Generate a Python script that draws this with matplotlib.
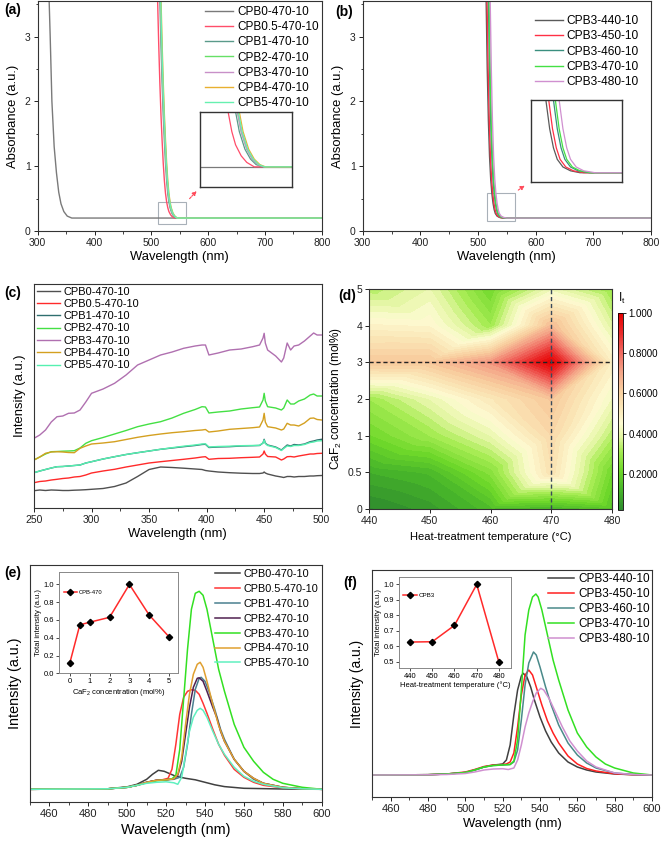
import numpy as np
import matplotlib
matplotlib.use('Agg')
import matplotlib.pyplot as plt
from matplotlib.colors import LinearSegmentedColormap, Normalize
from matplotlib.patches import Rectangle, FancyArrowPatch
import matplotlib.tri as mtri
import matplotlib.cm as cm

plt.rcParams['font.family'] = ['Liberation Sans', 'DejaVu Sans']
plt.rcParams['mathtext.default'] = 'regular'

# ---------------- DATA ----------------
# (a) absorbance, CaF2 series
a_labels = ['CPB0-470-10', 'CPB0.5-470-10', 'CPB1-470-10', 'CPB2-470-10', 'CPB3-470-10', 'CPB4-470-10', 'CPB5-470-10']
a_colors = ['#7a7a7a', '#ff4d6a', '#5a9a8a', '#66e066', '#c890c8', '#e8b030', '#66f0b0']
a_wl = [
    [320, 322, 325, 329, 333, 337, 341, 346, 352, 360, 800],
    [511, 513, 515, 517, 519, 521, 523, 525, 527, 529, 531, 534, 537, 541, 800],
    [515, 517, 519, 521, 523, 525, 527, 529, 531, 533, 536, 539, 542, 546, 800],
    [516, 518, 520, 522, 524, 526, 528, 530, 532, 534, 537, 540, 543, 546, 800],
    [516, 518, 520, 522, 524, 526, 528, 530, 532, 534, 537, 540, 543, 546, 800],
    [517, 519, 521, 523, 525, 527, 529, 531, 533, 535, 538, 541, 544, 547, 800],
    [516.5, 518.5, 520.5, 522.5, 524.5, 526.5, 528.5, 530.5, 532.5, 534.5, 537.5, 540.5, 543.5, 546.5, 800],
]
a_abs = [
    [3.6, 3.0, 2.0, 1.3, 0.9, 0.6, 0.42, 0.3, 0.23, 0.2, 0.2],
    [3.6, 2.9, 2.3, 1.8, 1.4, 1.05, 0.78, 0.58, 0.45, 0.36, 0.3, 0.25, 0.22, 0.2, 0.2],
    [3.6, 2.9, 2.3, 1.8, 1.4, 1.05, 0.78, 0.58, 0.45, 0.36, 0.28, 0.235, 0.21, 0.2, 0.2],
    [3.6, 2.9, 2.3, 1.8, 1.4, 1.05, 0.78, 0.58, 0.45, 0.36, 0.28, 0.235, 0.21, 0.2, 0.2],
    [3.6, 2.9, 2.3, 1.8, 1.4, 1.05, 0.78, 0.58, 0.45, 0.36, 0.28, 0.235, 0.21, 0.2, 0.2],
    [3.6, 2.9, 2.3, 1.8, 1.4, 1.05, 0.78, 0.58, 0.45, 0.36, 0.28, 0.235, 0.21, 0.2, 0.2],
    [3.6, 2.9, 2.3, 1.8, 1.4, 1.05, 0.78, 0.58, 0.45, 0.36, 0.28, 0.235, 0.21, 0.2, 0.2],
]

# (b) absorbance, temperature series
b_labels = ['CPB3-440-10', 'CPB3-450-10', 'CPB3-460-10', 'CPB3-470-10', 'CPB3-480-10']
b_colors = ['#5a5a5a', '#ff3045', '#3a8f7f', '#44e044', '#d090d0']
b_wl = [
    [514, 516, 518, 520, 522, 524, 526, 528, 530, 533, 537, 542, 800],
    [515.5, 517.5, 519.5, 521.5, 523.5, 525.5, 527.5, 529.5, 531.5, 534.5, 538.5, 544, 800],
    [518, 520, 522, 524, 526, 528, 530, 532, 534, 537, 541, 547, 800],
    [519, 521, 523, 525, 527, 529, 531, 533, 535, 538, 542, 548, 800],
    [521, 523, 525, 527, 529, 531, 533, 535, 537, 540, 544, 550, 800],
]
b_abs = [
    [3.6, 2.5, 1.7, 1.15, 0.8, 0.58, 0.43, 0.33, 0.27, 0.23, 0.21, 0.2, 0.2],
    [3.6, 2.5, 1.7, 1.15, 0.8, 0.58, 0.43, 0.33, 0.27, 0.23, 0.21, 0.2, 0.2],
    [3.6, 2.5, 1.7, 1.15, 0.8, 0.58, 0.43, 0.33, 0.27, 0.23, 0.21, 0.2, 0.2],
    [3.6, 2.5, 1.7, 1.15, 0.8, 0.58, 0.43, 0.33, 0.27, 0.23, 0.21, 0.2, 0.2],
    [3.6, 2.5, 1.7, 1.15, 0.8, 0.58, 0.43, 0.33, 0.27, 0.23, 0.21, 0.2, 0.2],
]

# (c) excitation-type spectra 250-500 nm
c_labels = a_labels
c_colors = ['#505050', '#ff2a2a', '#2f6f6f', '#44e044', '#b070b0', '#d4a020', '#55f0b0']
c_wl = [250, 255, 260, 265, 270, 275, 280, 285, 290, 295, 300, 310, 320, 330, 340, 350, 360, 370, 380, 390,
        396, 399, 402, 410, 420, 430, 440, 446, 449, 450, 451, 453, 460, 465, 467, 470, 473, 476, 480, 485,
        490, 493, 496, 500]
c_cpb0 = [17.3, 18, 17.5, 18, 17.8, 17.5, 17.5, 17.8, 18, 18.3, 18.7, 19.5, 21.5, 25, 31.5, 38.5, 41, 40.5, 39.8, 39,
          38.5, 37.5, 37, 36, 35.3, 34.8, 34.5, 34.5, 35, 36, 35, 34, 32, 31, 30.5, 31.5, 31.5, 31, 31.5, 31.5,
          32, 32, 32.3, 32.5]
c_cpb05 = [25.3, 26.5, 27, 28, 28.7, 29.5, 30, 31, 31.5, 33, 35, 37, 38.7, 41, 43, 45, 46.3, 47.5, 48.7, 50,
           51, 51.3, 48.7, 49.5, 49.7, 50.3, 50.7, 51, 54, 57, 54, 51.5, 51, 48, 49, 51.3, 51.5, 51, 52, 53,
           54, 54, 54.5, 54.7]
c_cpb1 = [35.3, 37, 38.5, 40, 41.3, 41.5, 42, 42.5, 43, 45, 46.3, 49, 51.3, 53.5, 55.3, 57, 58.7, 60, 61.3, 62.5,
          63.5, 63.7, 60.5, 61, 61.3, 62, 62.3, 62.5, 65, 68.7, 65, 63, 61, 58, 60, 63, 62, 63.5, 63, 64,
          66.3, 67, 68, 68.7]
c_cpb2 = [48, 51, 54, 56.3, 56.5, 56.8, 57, 57.3, 60, 64.7, 67.3, 70.5, 74, 77.5, 81.3, 84, 86.3, 90, 94.7, 98.5,
          101.3, 101, 95, 96, 97, 99, 100.3, 101, 108, 114.7, 107, 101.3, 100, 98, 100, 108, 104, 104, 107, 109,
          113, 114, 112, 112]
c_cpb3 = [69.7, 73, 78, 86, 91.3, 92, 94.7, 95, 98, 106, 114.7, 119, 124.7, 133, 143, 148, 153, 156, 159.7, 162,
          163, 163, 153, 155, 158, 159, 161.3, 163, 170, 174.7, 165, 158, 152, 146, 150, 165, 158, 162, 163, 167,
          172, 175, 173, 173]
c_cpb4 = [48, 51, 54.7, 56, 56.3, 56, 55.5, 55.3, 59.7, 62, 64, 65, 66.3, 68.5, 70.7, 72.5, 74, 75.3, 76.3, 77.5,
          78, 78.5, 76, 77, 78.7, 79.5, 80.3, 81, 88, 94.7, 86, 81.3, 80, 78, 79, 84.7, 83, 83, 82, 85,
          89.7, 90, 88.5, 88]
c_cpb5 = [35.3, 37, 38.5, 40, 41.3, 41.5, 42, 42.5, 43, 45, 46.3, 49, 51.3, 53.5, 55.3, 57, 58.7, 60.3, 61.8, 63,
          64, 64.2, 61, 61.5, 61.8, 62.3, 62.5, 62.7, 65, 68, 64.5, 62.5, 60.5, 57.5, 59.5, 62, 61.5, 62.5, 62.5, 63.5,
          65.5, 66, 67, 67.3]
c_series = [c_cpb0, c_cpb05, c_cpb1, c_cpb2, c_cpb3, c_cpb4, c_cpb5]

# (d) contour map of total intensity
d_temps = [440, 450, 460, 470, 480]
d_conc_labels = ['0', '0.5', '1', '2', '3', '4', '5']
d_int = [
    [0.02, 0.06, 0.14, 0.12, 0.16],   # 0 mol%
    [0.10, 0.13, 0.26, 0.545, 0.22],  # 0.5
    [0.22, 0.30, 0.40, 0.575, 0.33],  # 1
    [0.30, 0.40, 0.52, 0.63, 0.42],   # 2
    [0.627, 0.629, 0.735, 1.0, 0.495],# 3
    [0.48, 0.47, 0.30, 0.655, 0.38],  # 4
    [0.33, 0.40, 0.22, 0.41, 0.29],   # 5
]

# (e) PL spectra, CaF2 series
e_labels = a_labels
e_colors = ['#404040', '#ff3535', '#4a8090', '#502050', '#33e022', '#e0a030', '#60f0c0']
e_wl = [
    [450, 490, 500, 505, 510, 513, 516, 519, 522, 525, 530, 535, 540, 545, 550, 560, 580, 600],
    [450, 490, 500, 505, 510, 515, 518, 521, 523, 525, 527, 529, 531, 533, 535, 537, 539, 541, 544, 547, 550, 555, 560, 565, 570, 580, 590, 600],
    [450, 490, 500, 505, 510, 515, 520, 524, 527, 529, 531, 533, 535, 537, 538, 540, 542, 545, 548, 550, 555, 560, 565, 570, 580, 590, 600],
    [450, 490, 500, 505, 510, 515, 520, 524, 526, 528, 530, 532, 534, 536, 537, 539, 541, 544, 546, 548, 550, 555, 560, 565, 570, 580, 590, 600],
    [450, 490, 500, 505, 510, 515, 520, 523, 525, 527, 529, 531, 533, 535, 537, 539, 541, 544, 547, 550, 555, 560, 565, 570, 575, 580, 590, 600],
    [450, 490, 500, 505, 510, 515, 520, 524, 526, 528, 530, 532, 534, 536, 537.5, 539, 541, 544, 547, 550, 555, 560, 565, 570, 580, 590, 600],
    [450, 490, 500, 505, 510, 515, 520, 524, 526, 528, 530, 532, 534, 536, 537.5, 539, 541, 544, 547, 550, 555, 560, 565, 570, 580, 590, 600],
]
e_int = [
    [0, 0.5, 2.5, 5, 10, 15, 19, 18, 15.5, 13, 11, 9.5, 7, 4.5, 2.7, 1, 0.3, 0],
    [0, 0.5, 2, 4, 7, 9, 9.5, 11, 20, 45, 75, 92, 98, 99.5, 99, 95, 86, 76, 60, 45, 34, 20, 12, 7, 4, 1.5, 0.5, 0],
    [0, 0.5, 2, 4, 7, 9, 9.5, 10, 12, 22, 45, 75, 100, 111, 112, 108, 98, 80, 60, 50, 30, 18, 10, 6, 2, 0.5, 0],
    [0, 0.5, 2, 4, 7, 9, 9.5, 10.5, 14, 28, 55, 82, 102, 111, 111.5, 108, 98, 82, 72, 58, 48, 30, 18, 11, 6, 2, 0.5, 0],
    [0, 0.5, 2, 4, 6.5, 8.5, 9.5, 10.5, 14, 40, 90, 140, 180, 196, 198, 194, 180, 150, 120, 98, 65, 42, 28, 17, 10, 6, 2, 0],
    [0, 0.5, 2, 4, 7, 9, 9.5, 10.5, 15, 32, 65, 95, 115, 125, 127, 122, 108, 85, 64, 48, 30, 18, 11, 6, 2, 0.5, 0],
    [0, 0.5, 2, 4, 6, 7, 7.5, 6.5, 5, 12, 35, 58, 72, 79, 81, 79, 72, 58, 45, 35, 22, 13, 8, 5, 1.5, 0.5, 0],
]

# (f) PL spectra, temperature series
f_labels = b_labels
f_colors = ['#404040', '#ff2020', '#4a8a8a', '#33e022', '#d090d0']
f_wl = [
    [450, 480, 490, 500, 505, 510, 515, 518, 520, 522, 524, 526, 528, 530, 531, 533, 535, 537, 540, 543, 546, 550, 555, 560, 565, 570, 580, 590, 600],
    [450, 480, 490, 500, 505, 510, 515, 520, 522, 524, 526, 528, 530, 532, 534, 536, 538, 541, 544, 547, 550, 555, 560, 565, 570, 580, 590, 600],
    [450, 480, 490, 500, 505, 510, 515, 520, 524, 526, 528, 530, 532, 534, 536.5, 538, 540, 543, 546, 550, 555, 560, 565, 570, 580, 590, 600],
    [450, 480, 490, 500, 505, 510, 515, 520, 524, 526, 528, 530, 532, 534, 536, 537.8, 539, 541, 544, 547, 550, 555, 560, 565, 570, 575, 580, 590, 600],
    [450, 480, 490, 500, 505, 510, 515, 520, 523, 526, 528, 530, 532, 534, 536, 538, 540.4, 542, 545, 548, 552, 556, 560, 565, 570, 580, 590, 600],
]
f_int = [
    [0, 0.3, 1, 2.5, 5, 8, 10, 10.5, 11, 15, 30, 60, 85, 99, 101.7, 98, 88, 75, 58, 44, 33, 22, 13, 8, 5, 3, 1, 0.3, 0],
    [0, 0.3, 1, 3, 5.5, 8.5, 10, 10.5, 11, 13, 22, 48, 80, 100, 105, 100, 88, 70, 54, 42, 32, 19, 11, 6.5, 4, 1.2, 0.3, 0],
    [0, 0.3, 1, 2.5, 5, 8, 9.5, 10, 10.5, 13, 25, 55, 90, 112, 123, 120, 108, 88, 70, 50, 32, 20, 12, 7, 2, 0.5, 0],
    [0, 0.3, 1, 2.5, 5, 8, 9.5, 10, 10.5, 14, 35, 85, 140, 165, 178, 181, 178, 165, 140, 115, 95, 65, 42, 28, 18, 11, 7, 2, 0],
    [0, 0.2, 0.5, 1.5, 3, 5, 6, 6.3, 5.5, 7, 15, 30, 48, 62, 73, 82, 86.7, 85, 76, 64, 48, 34, 24, 14, 8, 2, 0.5, 0],
]

# insets
e_in_conc = [0, 0.5, 1, 2, 3, 4, 5]
e_in_int = [0.12, 0.545, 0.575, 0.63, 1.0, 0.655, 0.41]
f_in_temp = [440, 450, 460, 470, 480]
f_in_int = [0.627, 0.629, 0.735, 1.0, 0.495]

# ---------------- FIGURE ----------------
W, H = 662, 842
fig = plt.figure(figsize=(W / 100, H / 100), dpi=100)


def ax_px(l, t, r, b):
    return fig.add_axes([l / W, 1 - b / H, (r - l) / W, (b - t) / H])


def style(ax, fs=7.5):
    for s in ax.spines.values():
        s.set_color('#333333')
        s.set_linewidth(0.8)
    ax.tick_params(which='major', direction='out', length=3, width=0.7, labelsize=fs, colors='#222222', pad=2)
    ax.tick_params(which='minor', direction='out', length=1.8, width=0.6, colors='#222222')


def legend(ax, fs, anchor, spacing, hl):
    return ax.legend(loc='upper left', bbox_to_anchor=anchor, fontsize=fs, frameon=False, handlelength=hl,
                     handletextpad=0.35, labelspacing=spacing, borderaxespad=0, borderpad=0)


def panel_label(x, y, s):
    fig.text(x / W, 1 - y / H, s, fontsize=10, fontweight='bold', ha='left', va='center')


# ---- (a)
axa = ax_px(37.7, 1, 321.7, 231)
for lab, wl, ab, col in zip(a_labels, a_wl, a_abs, a_colors):
    axa.plot(wl, ab, color=col, lw=1.0, label=lab)
axa.set_xlim(300, 800)
axa.set_ylim(0, 3.55)
axa.set_xticks([300, 400, 500, 600, 700, 800])
axa.set_xticks([350, 450, 550, 650, 750], minor=True)
axa.set_yticks([0, 1, 2, 3])
axa.set_yticks([0.5, 1.5, 2.5, 3.5], minor=True)
style(axa)
axa.set_xlabel('Wavelength (nm)', fontsize=9.4, labelpad=2)
axa.set_ylabel('Absorbance (a.u.)', fontsize=9.4, labelpad=4)
legend(axa, 8.5, (0.589, 0.978), 0.27, 2.4)
axa.add_patch(Rectangle((512, 0.11), 49, 0.34, fill=False, ec='#a8b0b8', lw=0.8))
ina = ax_px(200, 111.7, 291.7, 186.7)
for wl, ab, col in zip(a_wl, a_abs, a_colors):
    ina.plot(wl, ab, color=col, lw=0.9)
ina.set_xlim(512, 561)
ina.set_ylim(0.11, 0.45)
ina.set_xticks([]); ina.set_yticks([])
for s in ina.spines.values():
    s.set_color('#333333'); s.set_linewidth(1.0)
fig.add_artist(FancyArrowPatch(posA=(187.7 / W, 1 - 200.7 / H), posB=(198.5 / W, 1 - 189 / H),
                               transform=fig.transFigure, arrowstyle='-|>', mutation_scale=6,
                               color='#ff4a5a', linestyle=(0, (2, 1)), lw=0.8))
panel_label(4, 10, '(a)')

# ---- (b)
axb = ax_px(362.7, 1, 651, 231)
for lab, wl, ab, col in zip(b_labels, b_wl, b_abs, b_colors):
    axb.plot(wl, ab, color=col, lw=1.0, label=lab)
axb.set_xlim(300, 800)
axb.set_ylim(0, 3.55)
axb.set_xticks([300, 400, 500, 600, 700, 800])
axb.set_xticks([350, 450, 550, 650, 750], minor=True)
axb.set_yticks([0, 1, 2, 3])
axb.set_yticks([0.5, 1.5, 2.5, 3.5], minor=True)
style(axb)
axb.set_xlabel('Wavelength (nm)', fontsize=9.4, labelpad=2)
axb.set_ylabel('Absorbance (a.u.)', fontsize=9.4, labelpad=4)
legend(axb, 8.6, (0.598, 0.939), 0.275, 2.3)
axb.add_patch(Rectangle((516, 0.15), 48, 0.43, fill=False, ec='#a8b0b8', lw=0.8))
inb = ax_px(530.7, 100, 621.7, 182.3)
for wl, ab, col in zip(b_wl, b_abs, b_colors):
    inb.plot(wl, ab, color=col, lw=0.9)
inb.set_xlim(516, 564)
inb.set_ylim(0.15, 0.58)
inb.set_xticks([]); inb.set_yticks([])
for s in inb.spines.values():
    s.set_color('#333333'); s.set_linewidth(1.0)
fig.add_artist(FancyArrowPatch(posA=(516 / W, 1 - 191.7 / H), posB=(527 / W, 1 - 184 / H),
                               transform=fig.transFigure, arrowstyle='-|>', mutation_scale=6,
                               color='#ff4a5a', linestyle=(0, (2, 1)), lw=0.8))
panel_label(335, 12, '(b)')

# ---- (c)
axc = ax_px(34, 284.3, 321.7, 508)
for lab, ys, col in zip(c_labels, c_series, c_colors):
    axc.plot(c_wl, ys, color=col, lw=1.0, label=lab)
axc.set_xlim(250, 500)
axc.set_ylim(0, 223.7)
axc.set_xticks([250, 300, 350, 400, 450, 500])
axc.set_xticks([275, 325, 375, 425, 475], minor=True)
axc.set_yticks([])
style(axc)
axc.set_xlabel('Wavelength (nm)', fontsize=9.4, labelpad=2)
axc.set_ylabel('Intensity (a.u.)', fontsize=9.4, labelpad=6)
legend(axc, 7.9, (0.0104, 0.99), 0.21, 2.1)
panel_label(4, 293, '(c)')

# ---- (d)
axd = ax_px(369, 289, 612, 509)
cols = ['#2e8b2e', '#47b52a', '#6fd82a', '#a8ec55', '#e2f6a0', '#fdfbd2', '#fbe9ba',
        '#f8d0a0', '#f4a588', '#f06a60', '#ea2a2a', '#e60000']
pos = [0.0, 0.1, 0.2, 0.3, 0.37, 0.44, 0.51, 0.6, 0.7, 0.8, 0.9, 1.0]
cmap = LinearSegmentedColormap.from_list('gwr', list(zip(pos, cols)))
norm = Normalize(vmin=0.02, vmax=1.0)
TX, TY = np.meshgrid(np.arange(len(d_temps)), np.arange(len(d_conc_labels)))
tri = mtri.Triangulation(TX.ravel().astype(float), TY.ravel().astype(float))
tri_t = mtri.Triangulation(np.array(d_temps, float)[TX.ravel()], TY.ravel().astype(float), tri.triangles)
axd.tricontourf(tri_t, np.array(d_int).ravel(), levels=np.linspace(0.0, 1.0, 41), cmap=cmap, norm=norm)
axd.axhline(4, color='#222222', lw=1.0, ls=(0, (3, 2)))
axd.axvline(470, color='#3a4a5a', lw=1.0, ls=(0, (3, 2)))
axd.set_xlim(440, 480)
axd.set_ylim(0, 6)
axd.set_xticks(d_temps)
axd.set_yticks(range(len(d_conc_labels)))
axd.set_yticklabels(d_conc_labels)
style(axd)
axd.set_xlabel('Heat-treatment temperature (°C)', fontsize=8, labelpad=4)
axd.set_ylabel('CaF$_2$ concentration (mol%)', fontsize=8.5, labelpad=3)
cax = ax_px(618, 313, 623, 510)
cb = fig.colorbar(cm.ScalarMappable(norm=norm, cmap=cmap), cax=cax, ticks=[0.2, 0.4, 0.6, 0.8, 1.0])
cb.ax.set_yticklabels(['0.2000', '0.4000', '0.6000', '0.8000', '1.000'])
cb.ax.tick_params(labelsize=7, length=2, width=0.6, pad=2)
cb.outline.set_linewidth(0.6)
fig.text(622 / W, 1 - 298 / H, 'I$_t$', fontsize=8.5, ha='center', va='center')
panel_label(338, 296, '(d)')

# ---- (e)
axe = ax_px(30, 565, 321.7, 802)
for lab, wl, it, col in zip(e_labels, e_wl, e_int, e_colors):
    axe.plot(wl, it, color=col, lw=1.1, label=lab)
axe.set_xlim(450, 600)
axe.set_ylim(-12.7, 224.3)
axe.set_xticks([460, 480, 500, 520, 540, 560, 580, 600])
axe.set_xticks([450, 470, 490, 510, 530, 550, 570, 590], minor=True)
axe.set_yticks([])
style(axe, fs=8)
axe.set_xlabel('Wavelength (nm)', fontsize=10.4, labelpad=3)
axe.set_ylabel('Intensity (a.u.)', fontsize=10.4, labelpad=6)
legend(axe, 7.8, (0.634, 0.983), 0.45, 2.3)
ine = ax_px(59, 572, 178, 673.3)
ine.plot(e_in_conc, e_in_int, color='#ff2a2a', lw=1.1, marker='D', ms=3.2, mfc='black', mec='black',
         label='CPB-470')
ine.set_xlim(-0.55, 5.45)
ine.set_ylim(0, 1.14)
ine.set_xticks([0, 1, 2, 3, 4, 5])
ine.set_yticks([0.0, 0.2, 0.4, 0.6, 0.8, 1.0])
ine.set_yticklabels(['0.0', '0.2', '0.4', '0.6', '0.8', '1.0'])
for s in ine.spines.values():
    s.set_color('#888888'); s.set_linewidth(0.7)
ine.tick_params(direction='out', length=2, width=0.5, labelsize=5.5, pad=1.5)
ine.set_xlabel('CaF$_2$ concentration (mol%)', fontsize=5.5, labelpad=1)
ine.set_ylabel('Total intensity (a.u.)', fontsize=5.5, labelpad=1.5)
ine.legend(loc='center left', bbox_to_anchor=(0.042, 0.80), fontsize=4.2, frameon=False, handlelength=2.2,
           borderaxespad=0, borderpad=0, handletextpad=0.3)
panel_label(4, 573, '(e)')

# ---- (f)
axf = ax_px(372, 570, 652, 797)
for lab, wl, it, col in zip(f_labels, f_wl, f_int, f_colors):
    axf.plot(wl, it, color=col, lw=1.1, label=lab)
axf.set_xlim(450, 600)
axf.set_ylim(-22, 205)
axf.set_xticks([460, 480, 500, 520, 540, 560, 580, 600])
axf.set_xticks([450, 470, 490, 510, 530, 550, 570, 590], minor=True)
axf.set_yticks([])
style(axf, fs=8)
axf.set_xlabel('Wavelength (nm)', fontsize=9.4, labelpad=3)
axf.set_ylabel('Intensity (a.u.)', fontsize=10, labelpad=6)
legend(axf, 8.5, (0.6275, 0.985), 0.25, 2.25)
inf = ax_px(399.3, 576.7, 511, 668.3)
inf.plot(f_in_temp, f_in_int, color='#ff2a2a', lw=1.1, marker='D', ms=3.2, mfc='black', mec='black',
         label='CPB3')
inf.set_xlim(435.2, 485.4)
inf.set_ylim(0.457, 1.05)
inf.set_xticks(f_in_temp)
inf.set_yticks([0.5, 0.6, 0.7, 0.8, 0.9, 1.0])
for s in inf.spines.values():
    s.set_color('#888888'); s.set_linewidth(0.7)
inf.tick_params(direction='out', length=2, width=0.5, labelsize=5.5, pad=1.5)
inf.set_xlabel('Heat-treatment temperature (°C)', fontsize=5.5, labelpad=1)
inf.set_ylabel('Total intensity (a.u.)', fontsize=5.5, labelpad=1.5)
inf.legend(loc='center left', bbox_to_anchor=(0.033, 0.80), fontsize=4.5, frameon=False, handlelength=2.2,
           borderaxespad=0, borderpad=0, handletextpad=0.3)
panel_label(343, 583, '(f)')

fig.savefig('out.png', dpi=100)
